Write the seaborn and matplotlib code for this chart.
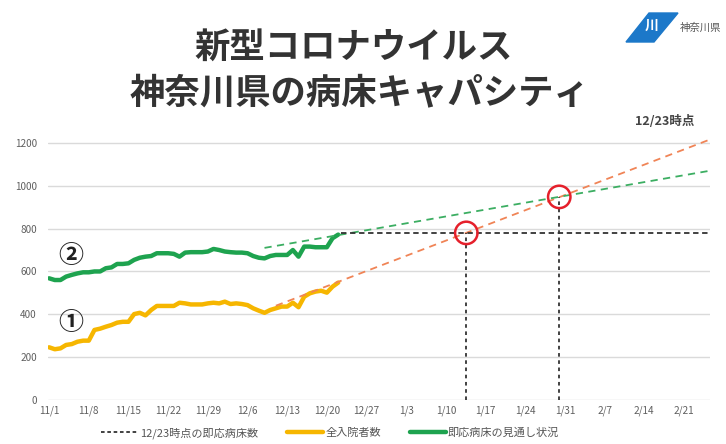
import numpy as np
import pandas as pd
import matplotlib
matplotlib.use("Agg")
import matplotlib.pyplot as plt
from matplotlib.patches import Polygon
from matplotlib.lines import Line2D
import seaborn as sns

# ---------------- data ----------------
start_date = "2020-11-01"
green_beds = [568, 560, 560, 576, 584, 591, 596, 596, 600, 600,
              615, 619, 635, 635, 638, 654, 664, 669, 672, 685,
              685, 685, 682, 669, 688, 690, 690, 690, 693, 705,
              700, 693, 690, 688, 688, 685, 672, 664, 661, 672,
              677, 677, 677, 700, 669, 716, 716, 713, 713, 713,
              755, 772]
orange_inpatients = [246, 237, 241, 257, 261, 272, 277, 277, 327, 333,
                     342, 350, 361, 365, 365, 401, 407, 395, 420, 439,
                     439, 439, 439, 454, 451, 446, 446, 446, 451, 454,
                     451, 459, 448, 451, 448, 443, 428, 417, 407, 420,
                     428, 436, 436, 454, 433, 482, 498, 506, 510, 501,
                     529, 548]
# trend lines (day offset from 11/1, value)
orange_trend_days = [40, 117]
orange_trend_vals = [440, 1220]
green_trend_days = [38, 117]
green_trend_vals = [710, 1072]
capacity_value = 780
capacity_days = [51.5, 117]
cross_days = [73.6, 90.0]
cross_vals = [780, 948]
tick_labels = ["11/1", "11/8", "11/15", "11/22", "11/29", "12/6", "12/13",
               "12/20", "12/27", "1/3", "1/10", "1/17", "1/24", "1/31",
               "2/7", "2/14", "2/21"]
y_ticks = [0, 200, 400, 600, 800, 1000, 1200]
legend_labels = ["12/23時点の即応病床数", "全入院者数", "即応病床の見通し状況"]

# ---------------- styling ----------------
sns.set_theme(style="white")
plt.rcParams['font.family'] = ['Noto Sans CJK JP', 'DejaVu Sans']

GREEN = "#1ea34f"
ORANGE = "#f6b600"
ORANGE_DASH = "#f08456"
GREEN_DASH = "#3cae62"
DARK = "#333333"
RED = "#e5202b"
GRID = "#dadada"
TICK = "#606060"

t0 = pd.Timestamp(start_date)
def d2t(d):
    return t0 + pd.to_timedelta(np.asarray(d, dtype=float), unit="D")

dates = pd.date_range(start_date, periods=len(green_beds), freq="D")
df = pd.DataFrame({
    "date": list(dates) + list(dates),
    "value": green_beds + orange_inpatients,
    "series": ["green"] * len(dates) + ["orange"] * len(dates),
})

fig = plt.figure(figsize=(7.26, 4.44), dpi=100)
ax = fig.add_axes([0.0661, 0.0991, 0.9119, 0.608])

for yv in y_ticks:
    ax.axhline(yv, color=GRID, lw=1.0, zorder=0)

sns.lineplot(data=df, x="date", y="value", hue="series",
             palette={"green": GREEN, "orange": ORANGE},
             linewidth=3.2, legend=False, ax=ax, zorder=3)

ax.plot(d2t(orange_trend_days), orange_trend_vals, ls=(0, (4, 3)),
        color=ORANGE_DASH, lw=1.3, zorder=4, clip_on=False)
ax.plot(d2t(green_trend_days), green_trend_vals, ls=(0, (4, 3)),
        color=GREEN_DASH, lw=1.3, zorder=4, clip_on=False)
ax.plot(d2t(capacity_days), [capacity_value] * 2, ls=(0, (3, 2)),
        color=DARK, lw=1.3, zorder=4)
for cd, cv in zip(cross_days, cross_vals):
    ax.plot(d2t([cd, cd]), [0, cv], ls=(0, (2, 2)), color=DARK, lw=1.3, zorder=4)
ax.scatter(d2t(cross_days), cross_vals, s=260, facecolors="none",
           edgecolors=RED, linewidths=1.8, zorder=6)

tick_dates = pd.date_range(start_date, periods=len(tick_labels), freq="7D")
ax.set_xticks(tick_dates)
ax.set_xticklabels(tick_labels)
ax.set_yticks(y_ticks)
ax.set_yticklabels([str(v) for v in y_ticks])
ax.tick_params(axis="both", length=0, labelsize=7.2, colors=TICK)
ax.tick_params(axis="x", pad=4)
ax.tick_params(axis="y", pad=8)
ax.set_xlim(d2t(-0.2), d2t(116.6))
ax.set_ylim(0, 1260)
ax.set_xlabel("")
ax.set_ylabel("")
for s in ax.spines.values():
    s.set_visible(False)

# circled labels
ax.text(d2t(3.9), 672, "②", fontsize=18, color="#222222", fontweight="bold",
        ha="center", va="center")
ax.text(d2t(3.9), 360, "①", fontsize=18, color="#222222", fontweight="bold",
        ha="center", va="center")

# legend
handles = [Line2D([], [], color=DARK, ls=(0, (2, 1.5)), lw=1.3),
           Line2D([], [], color=ORANGE, lw=3.2),
           Line2D([], [], color=GREEN, lw=3.2)]
fig.legend(handles, legend_labels, loc="center", bbox_to_anchor=(0.455, 0.025),
           ncol=3, frameon=False, fontsize=8, handlelength=3.3,
           columnspacing=2.6, handletextpad=0.15, labelcolor="#555555")

# titles
fig.text(0.487, 0.893, "新型コロナウイルス", fontsize=25.5, fontweight="bold",
         color="#333333", ha="center", va="center")
fig.text(0.495, 0.790, "神奈川県の病床キャパシティ", fontsize=25.5, fontweight="bold",
         color="#333333", ha="center", va="center")
fig.text(0.915, 0.727, "12/23時点", fontsize=9, fontweight="bold",
         color="#444444", ha="center", va="center")

# logo
logo = Polygon([(649 / 726, 1 - 13 / 444), (678 / 726, 1 - 13 / 444),
                (654 / 726, 1 - 42 / 444), (626 / 726, 1 - 42 / 444)],
               closed=True, transform=fig.transFigure, color="#1c78c9")
fig.patches.append(logo)
fig.text(652 / 726, 1 - 26 / 444, "川", fontsize=10, color="white",
         ha="center", va="center", fontweight="bold")
fig.text(701 / 726, 1 - 28 / 444, "神奈川県", fontsize=7.5, color="#555555",
         ha="center", va="center")

fig.savefig("out.png", dpi=100)
